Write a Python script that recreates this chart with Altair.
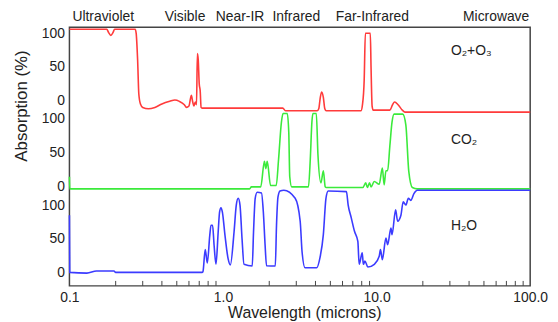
import altair as alt
import pandas as pd

# ---- data (wavelength in microns, absorption in %) ----
o3_wl = [0.1, 0.175, 0.18, 0.186, 0.192, 0.197, 0.268, 0.272, 0.278, 0.283, 0.29, 0.30,
         0.327, 0.36, 0.40, 0.45, 0.486, 0.52, 0.56, 0.578, 0.60, 0.622, 0.635, 0.646,
         0.66, 0.672, 0.681, 0.69, 0.70, 0.71, 0.72, 0.73, 2.45, 2.55, 4.1, 4.2, 4.3,
         4.39, 4.5, 4.6, 4.7, 7.9, 8.1, 8.3, 8.45, 9.1, 9.2, 9.35, 9.5, 12.2, 12.7,
         13.1, 13.8, 14.7, 15.3, 100]
o3_ab = [106, 106, 101, 97, 101, 106, 106, 100, 60, 10, -5, -10, -12, -10, -5, -1, 1,
         -1, -6, -10, -8, 8, -2, -8, -2, -6, 70, 60, 25, 15, -10, -11, -11, -15, -15,
         -12, 5, 13, 5, -12, -15, -15, -5, 30, 100, 100, 50, -8, -14, -14, -6, -2, -6,
         -14, -17, -17]

co2_wl = [0.1, 0.1005, 1.49, 1.53, 1.76, 1.86, 1.9, 1.94, 2.04, 2.22, 2.3, 2.4, 2.46,
          2.62, 2.68, 2.72, 2.8, 3.6, 3.7, 3.79, 3.85, 4.05, 4.15, 4.34, 4.5, 4.63, 4.7,
          8.13, 8.5, 8.7, 9.0, 9.2, 9.66, 10.4, 10.9, 11.2, 11.5, 11.8, 12.2, 12.6, 13.0,
          14.8, 15.5, 16.2, 17.1, 18.4, 100]
co2_ab = [14, -4, -4, -1, -1, 37, 26, 37, 1, 1, 40, 95, 108, 108, 80, 14, -1, -1, 40,
          95, 108, 108, 47, 5, 23, -1, -2, -2, 5, -2, 5, -1, 7, 3, 27, 2, 23, 23, 60,
          95, 107, 107, 91, 22, -2, -4, -4]

h2o_wl = [0.1, 0.1005, 0.13, 0.15, 0.195, 0.2, 0.73, 0.74, 0.766, 0.79, 0.82, 0.835,
          0.855, 0.875, 0.9, 0.93, 0.95, 0.97, 0.99, 1.03, 1.08, 1.116, 1.18, 1.22,
          1.256, 1.29, 1.33, 1.37, 1.55, 1.58, 1.62, 1.67, 1.78, 1.83, 1.88, 1.92,
          2.19, 2.23, 2.28, 2.35, 2.49, 2.95, 3.18, 3.27, 3.42, 4.07, 4.28, 4.5, 4.68,
          4.84, 6.36, 6.53, 6.84, 7.18, 7.55, 7.7, 8.06, 8.2, 8.4, 8.77, 9.66, 10.4,
          10.6, 10.9, 11.5, 11.8, 12.4, 12.6, 13.3, 13.7, 14.4, 14.9, 15.5, 16.1, 16.7,
          17.5, 18.4, 100]
h2o_ab = [85, 0, -1, 2, 2, 0, 0, 1, 34, 14, 55, 70, 70, 40, 12, 60, 90, 96, 90, 55,
          20, 11, 60, 100, 110, 100, 50, 12, 9.5, 60, 110, 119, 118, 90, 40, 10,
          9.5, 70, 112, 121, 122, 110, 76, 31, 7, 7, 22, 56, 110,
          121, 120, 100, 81, 61, 46, 12, 29, 12, 17, 8, 12, 24,
          34, 19, 51, 41, 66, 56, 93, 76, 85, 105, 100, 110, 107,
          117, 122, 122]

band_names = ["Ultraviolet", "Visible", "Near-IR", "Infrared", "Far-Infrared", "Microwave"]
band_centers = [0.166, 0.566, 1.29, 3.0, 9.38, 60]

minor_ticks = [m * d for d in (0.1, 1, 10) for m in range(2, 10)]
major_ticks = [0.1, 1, 10, 100]

series_names = ["O₂+O₃", "CO₂", "H₂O"]
series_colors = ["#ff3b3b", "#3bea3b", "#3b3bff"]
offsets = [255, 128, 0]
label_py = [24, 114, 201]

W, H = 465, 261
X_SCALE = alt.Scale(type="log", domain=[0.1, 100], nice=False)
Y_SCALE = alt.Scale(domain=[-20, 364], nice=False, zero=False)

y_vals = sorted([o + v for o in offsets for v in (0, 50, 100)])
label_expr = ("'' + (datum.value >= 255 ? datum.value - 255 : "
              "(datum.value >= 128 ? datum.value - 128 : datum.value))")

x_axis = alt.Axis(values=major_ticks, format=".1f", tickSize=0, domain=False, grid=False,
                  labelFontSize=14, labelPadding=5, labelColor="#222", labelOverlap=False,
                  labelFlush=False, title="Wavelength (microns)", titleFontSize=16,
                  titleFontWeight="normal", titleColor="#222", titleX=237, titleY=32,
                  titleAlign="center", titleBaseline="alphabetic")
y_axis = alt.Axis(values=y_vals, labelExpr=label_expr, tickSize=0, domain=False, grid=False,
                  labelFontSize=14, labelPadding=5, labelColor="#222", labelOverlap=False,
                  title="Absorption (%)", titleFontSize=17, titleFontWeight="normal",
                  titleColor="#222", titleAngle=-90, titleX=-43, titleY=79,
                  titleAlign="center", titleBaseline="alphabetic")

XE = alt.X("wl:Q", scale=X_SCALE, axis=x_axis)
YE = alt.Y("y:Q", scale=Y_SCALE, axis=y_axis)

layers = []
for name, wl, ab, col, off in zip(series_names, [o3_wl, co2_wl, h2o_wl],
                                  [o3_ab, co2_ab, h2o_ab], series_colors, offsets):
    d = pd.DataFrame({"wl": wl, "y": [a + off for a in ab]})
    layers.append(
        alt.Chart(d).mark_line(color=col, strokeWidth=1.6, interpolate="monotone").encode(
            x=XE, y=YE)
    )

ticks = alt.Chart(pd.DataFrame({"wl": minor_ticks})).mark_rule(color="#444", strokeWidth=1).encode(
    x=XE,
    y=alt.value(H),
    y2=alt.value(H - 5),
)

bands = alt.Chart(pd.DataFrame({"wl": band_centers, "name": band_names})).mark_text(
    fontSize=14, color="#222", align="center", baseline="middle"
).encode(
    x=XE,
    y=alt.value(-10),
    text="name:N",
)

labels = []
for name, py in zip(series_names, label_py):
    labels.append(
        alt.Chart(pd.DataFrame({"name": [name]})).mark_text(
            fontSize=14, color="#222", align="left", baseline="middle"
        ).encode(x=alt.value(385), y=alt.value(py), text="name:N")
    )

chart = alt.layer(*layers, ticks, bands, *labels).properties(
    width=W, height=H,
    autosize=alt.AutoSizeParams(type="none"),
    padding={"left": 62, "top": 18, "right": 20, "bottom": 34},
).configure(font="Liberation Sans").configure_view(stroke="#444", strokeWidth=1.5)

chart.save("out.html", embed_options={"renderer": "svg", "actions": False})
